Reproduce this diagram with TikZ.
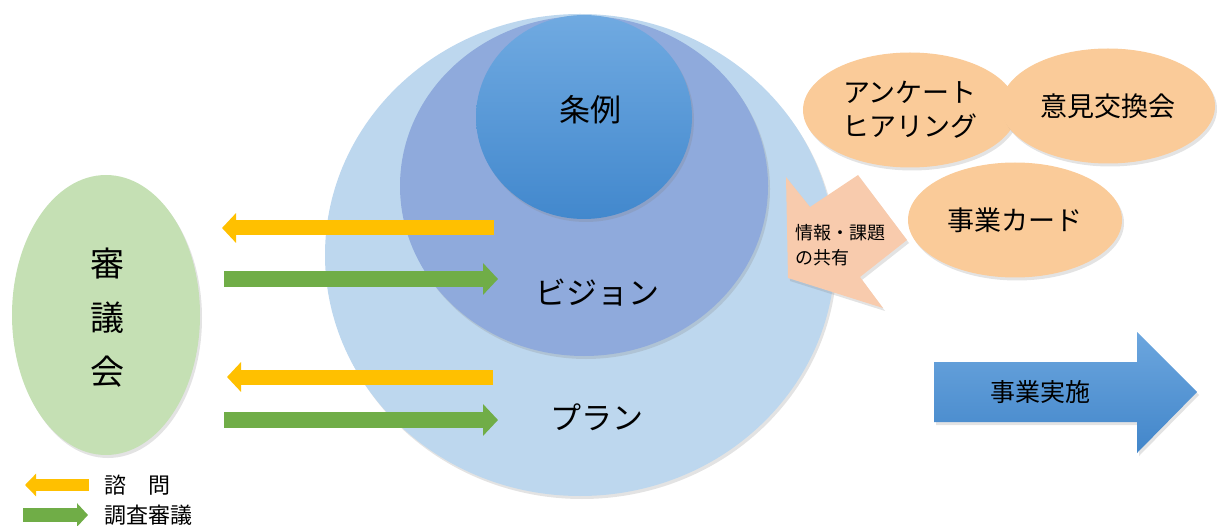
\documentclass[tikz,border=0pt]{standalone}
\usepackage{fontspec}
\setmainfont{Noto Sans CJK JP}
\usetikzlibrary{shapes.geometric,arrows.meta,shadows}
\definecolor{planc}{RGB}{189,215,238}
\definecolor{visionc}{RGB}{143,170,220}
\definecolor{jorei1}{RGB}{112,170,225}
\definecolor{jorei2}{RGB}{66,136,205}
\definecolor{shingic}{RGB}{197,224,180}
\definecolor{yellowc}{RGB}{255,192,0}
\definecolor{greenc}{RGB}{112,173,71}
\definecolor{salmonc}{RGB}{248,203,173}
\definecolor{orangec}{RGB}{250,203,153}
\definecolor{blue1}{RGB}{108,166,222}
\definecolor{blue2}{RGB}{66,134,202}
\tikzset{
  soft/.style={drop shadow={opacity=0.22,shadow xshift=2pt,shadow yshift=-3pt}},
  ring/.style={ellipse,inner sep=0pt,soft},
  oval/.style={ellipse,inner sep=0pt,fill=orangec,soft,minimum width=214pt,minimum height=115pt,font=\fontsize{27}{34}\selectfont,align=center},
  yarrow/.style={draw=yellowc,line width=15pt,-{Triangle[width=29pt,length=14pt]}},
  garrow/.style={draw=greenc,line width=16pt,-{Triangle[width=31pt,length=15pt]}},
  ylegend/.style={draw=yellowc,line width=12pt,-{Triangle[width=22pt,length=11pt]}},
  glegend/.style={draw=greenc,line width=14pt,-{Triangle[width=23pt,length=11pt]}},
  legtext/.style={anchor=west,font=\fontsize{22}{26}\selectfont},
}
\begin{document}
\begin{tikzpicture}[x=1pt,y=-1pt]
\useasboundingbox (0,0) rectangle (1217,526);
% circles
\node[ring,fill=planc,minimum width=510pt,minimum height=482pt] (plan) at (580,255) {};
\node[ring,fill=visionc,minimum width=368pt,minimum height=340pt] (vision) at (584,186) {};
\node[ring,top color=jorei1,bottom color=jorei2,minimum width=216pt,minimum height=204pt] (jorei) at (584,117) {};
\node[font=\fontsize{31}{36}\selectfont] (joreit) at (590,110) {条例};
% council
\node[ring,fill=shingic,minimum width=188pt,minimum height=280pt] (shingi) at (106,315) {};
\node[font=\fontsize{34}{40}\selectfont,align=center] (shingit) at (107,318) {審\\[14pt]議\\[14pt]会};
% arrows between council and plans
\coordinate (y1s) at (494,228); \coordinate (y1e) at (222,228);
\coordinate (g1s) at (224,279); \coordinate (g1e) at (498,279);
\coordinate (y2s) at (493,377); \coordinate (y2e) at (227,377);
\coordinate (g2s) at (224,420); \coordinate (g2e) at (498,420);
\draw[yarrow] (y1s) -- (y1e);
\draw[garrow] (g1s) -- (g1e);
\draw[yarrow] (y2s) -- (y2e);
\draw[garrow] (g2s) -- (g2e);
\node[font=\fontsize{31}{36}\selectfont] (visiont) at (597,293) {ビジョン};
\node[font=\fontsize{31}{36}\selectfont] (plant) at (597,417) {プラン};
% info sharing arrow
\path[fill=salmonc,soft] (788,278) -- (786,177) -- (810,207) -- (858,175) -- (907,240) -- (860,277) -- (883,308) -- cycle;
\node[font=\fontsize{18}{25}\selectfont,align=left,anchor=west,inner sep=0pt] (info) at (795,245) {情報・課題\\の共有};
% orange ellipses
\node[oval] (anke) at (910,110) {アンケート\\ヒアリング};
\node[oval] (iken) at (1108,106) {意見交換会};
\node[oval] (card) at (1015,220) {事業カード};
% implementation arrow
\path[top color=blue1,bottom color=blue2,soft] (934,362) -- (1137,362) -- (1137,332) -- (1197,392) -- (1137,453) -- (1137,422) -- (934,422) -- cycle;
\node[font=\fontsize{25}{30}\selectfont] (jisshi) at (1040,392) {事業実施};
% legend
\coordinate (ly1s) at (89,485); \coordinate (ly1e) at (25,485);
\coordinate (lg1s) at (23,515); \coordinate (lg1e) at (88,515);
\draw[ylegend] (ly1s) -- (ly1e);
\draw[glegend] (lg1s) -- (lg1e);
\node[legtext] (l1) at (101,485) {諮　問};
\node[legtext] (l2) at (101,515) {調査審議};
\end{tikzpicture}
\end{document}
